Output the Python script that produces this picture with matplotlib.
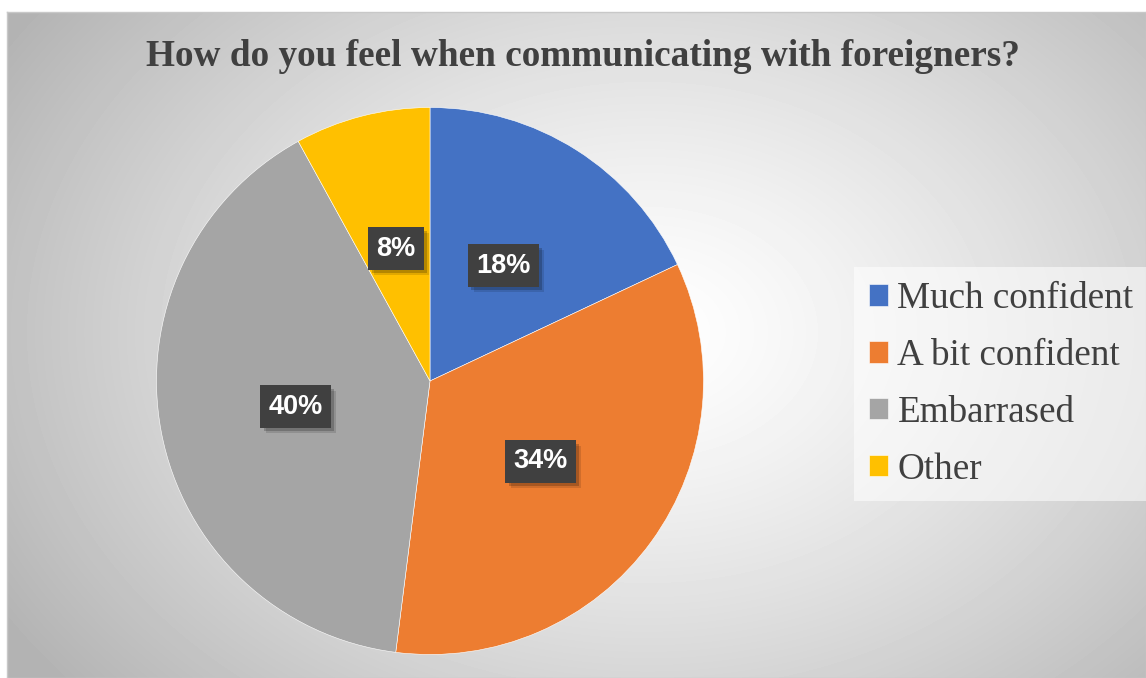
import numpy as np
import matplotlib
matplotlib.use("Agg")
import matplotlib.pyplot as plt
import matplotlib.patheffects as pe

# data
labels = ["Much confident", "A bit confident", "Embarrased", "Other"]
shares = [18, 34, 40, 8]
colors = ["#4472C4", "#ED7D31", "#A5A5A5", "#FFC000"]
title = "How do you feel when communicating with foreigners?"

W, H = 1146, 678
fig = plt.figure(figsize=(W / 100, H / 100), dpi=100)
fig.patch.set_facecolor("white")

# chart area with radial gradient
bg = fig.add_axes([7 / W, 0, 1 - 7 / W, 1 - 12 / H])
yy, xx = np.mgrid[0:666, 0:1139]
cx, cy = 640, 320
r = np.sqrt(((xx - cx) / 760.0) ** 2 + ((yy - cy) / 560.0) ** 2)
shade = 1.0 - 0.30 * np.clip(r, 0, 1) ** 1.3
bg.imshow(shade, cmap="gray", vmin=0, vmax=1, aspect="auto", interpolation="bilinear")
bg.set_xticks([])
bg.set_yticks([])
for s in bg.spines.values():
    s.set_color("#c8c8c8")
    s.set_linewidth(1)

fig.text(583 / W, 1 - 57 / H, title, ha="center", va="center",
         fontfamily="Liberation Serif", fontweight="bold", fontsize=26.8, color="#404040")

# pie
R = 273.5
ax = fig.add_axes([(430 - R) / W, (H - 381 - R) / H, 2 * R / W, 2 * R / H])
wedges, texts, autotexts = ax.pie(shares, colors=colors, startangle=90, counterclock=False,
                                  radius=1, autopct="%.0f%%", pctdistance=0.5,
                                  wedgeprops=dict(edgecolor="white", linewidth=0.4))
ax.set_xlim(-1, 1)
ax.set_ylim(-1, 1)
ax.axis("off")

for t in autotexts:
    t.set_fontfamily("Liberation Sans")
    t.set_fontweight("bold")
    t.set_fontsize(19.5)
    t.set_color("white")
    t.set_bbox(dict(boxstyle="square,pad=0.3", facecolor="#404040", edgecolor="none"))
    t.get_bbox_patch().set_path_effects([
        pe.SimplePatchShadow(offset=(4, -4), shadow_rgbFace="black", alpha=0.12),
        pe.SimplePatchShadow(offset=(2.5, -2.5), shadow_rgbFace="black", alpha=0.2),
        pe.Normal()])

leg = fig.legend(wedges, labels, loc="upper left", bbox_to_anchor=(854 / W, 1 - 267 / H),
                 prop={"family": "Liberation Serif", "size": 26.7}, frameon=True,
                 fancybox=False, handlelength=0.52, handleheight=0.52, handletextpad=0.25,
                 labelspacing=0.6, borderpad=0.4, borderaxespad=0)
leg.get_frame().set_facecolor("white")
leg.get_frame().set_alpha(0.55)
leg.get_frame().set_edgecolor("none")
for txt in leg.get_texts():
    txt.set_color("#404040")

fig.savefig("out.png", dpi=100)
